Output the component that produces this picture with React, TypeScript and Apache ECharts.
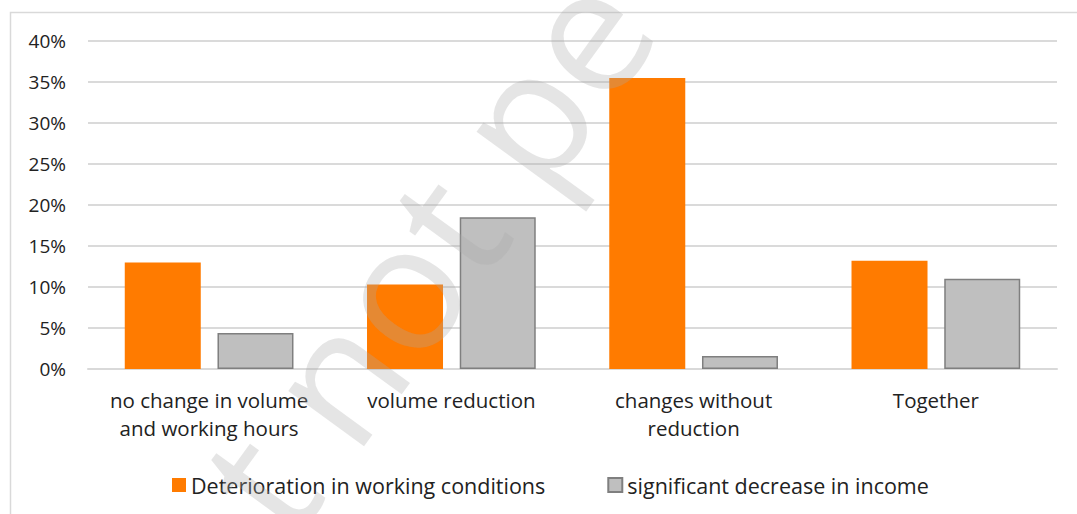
import React, { useEffect, useRef } from "react";
import * as echarts from "echarts";

const categories = [
  "no change in volume\nand working hours",
  "volume reduction",
  "changes without\nreduction",
  "Together",
];
const seriesNames = ["Deterioration in working conditions", "significant decrease in income"];
const deterioration = [13.0, 10.3, 35.5, 13.2];
const incomeDecrease = [4.4, 18.5, 1.6, 11.0];
const yTicks = { min: 0, max: 40, interval: 5 };
const watermarkText = "t not pe";

const FONT = "'Open Sans', 'Noto Sans', sans-serif";

export default function App() {
  const ref = useRef<HTMLDivElement>(null);
  useEffect(() => {
    if (!ref.current) return;
    const chart = echarts.init(ref.current, undefined, { renderer: "svg" });
    chart.setOption({
      animation: false,
      backgroundColor: "#ffffff",
      textStyle: { fontFamily: FONT, color: "#222" },
      grid: { left: 88, right: 20, top: 41, bottom: 145, containLabel: false },
      xAxis: {
        type: "category",
        data: categories,
        axisTick: { show: false },
        axisLine: { show: true, lineStyle: { color: "#D9D9D9", width: 2 } },
        axisLabel: {
          interval: 0,
          margin: 17,
          fontSize: 20.5,
          lineHeight: 28,
          color: "#222",
          fontFamily: FONT,
        },
      },
      yAxis: {
        type: "value",
        min: yTicks.min,
        max: yTicks.max,
        interval: yTicks.interval,
        axisLine: { show: false },
        axisTick: { show: false },
        splitLine: { lineStyle: { color: "#DADADA", width: 2 } },
        axisLabel: {
          formatter: "{value}%",
          margin: 22,
          fontSize: 19,
          color: "#222",
          fontFamily: FONT,
        },
      },
      legend: {
        left: 167,
        top: 468,
        itemWidth: 14,
        itemHeight: 14,
        itemGap: 62,
        icon: "rect",
        textStyle: { fontSize: 21.5, lineHeight: 24, color: "#222", fontFamily: FONT },
        data: seriesNames,
      },
      series: [
        {
          name: seriesNames[0],
          type: "bar",
          data: deterioration,
          barWidth: 76,
          barGap: "22%",
          itemStyle: { color: "#FF7B00" },
        },
        {
          name: seriesNames[1],
          type: "bar",
          data: incomeDecrease,
          barWidth: 76,
          itemStyle: { color: "#BFBFBF", borderColor: "#7F7F7F", borderWidth: 1.5 },
        },
      ],
      graphic: [
        {
          type: "rect",
          z: 0,
          silent: true,
          shape: { x: 10.5, y: 12.5, width: 1100, height: 600 },
          style: { fill: "none", stroke: "#D9D9D9", lineWidth: 1.5 },
        },
        {
          type: "text",
          z: 100,
          silent: true,
          x: 166,
          y: 454,
          rotation: (54 * Math.PI) / 180,
          style: {
            text: watermarkText,
            font: `175px ${FONT}`,
            fill: "rgba(170,170,170,0.3)",
            align: "left",
            verticalAlign: "alphabetic",
          },
        },
      ],
    });
    return () => chart.dispose();
  }, []);
  return (
    <div
      ref={ref}
      style={{ position: "fixed", left: 0, top: 0, width: 1077, height: 514, background: "#fff" }}
    />
  );
}
